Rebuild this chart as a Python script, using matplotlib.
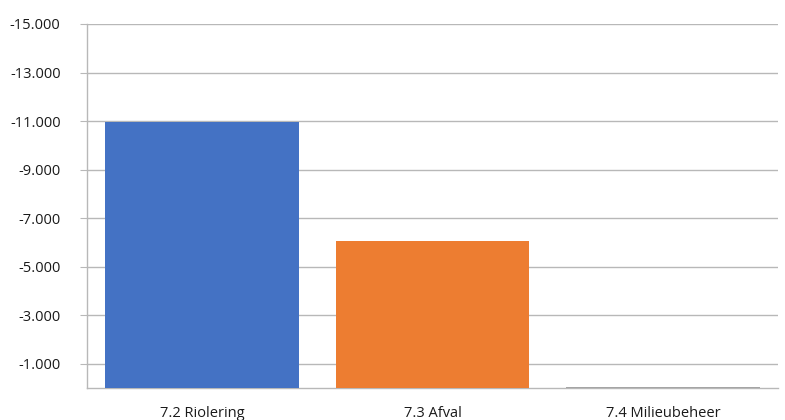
import matplotlib
matplotlib.use("Agg")
import matplotlib.pyplot as plt
from matplotlib.ticker import FuncFormatter

categories = ["7.2 Riolering", "7.3 Afval", "7.4 Milieubeheer"]
values = [-10960, -6060, -60]
colors = ["#4472C4", "#ED7D31", "#A5A5A5"]
y_ticks = [-15000, -13000, -11000, -9000, -7000, -5000, -3000, -1000]

plt.rcParams["font.family"] = ["Open Sans", "DejaVu Sans"]

fig = plt.figure(figsize=(7.85, 4.2), dpi=100)
ax = fig.add_axes([87 / 785, 32 / 420, (778 - 87) / 785, (388 - 24) / 420])

x = range(len(categories))
ax.bar(x, values, width=0.84, color=colors, zorder=3)

ax.set_xlim(-0.5, len(categories) - 0.5)
ax.set_ylim(0, -15000)
ax.set_yticks(y_ticks)
ax.yaxis.set_major_formatter(FuncFormatter(lambda v, p: f"{int(v):,}".replace(",", ".")))
ax.set_xticks(list(x))
ax.set_xticklabels(categories)

ax.grid(axis="y", color="#b8b8b8", linewidth=1.0, zorder=0)
for side in ("top", "right"):
    ax.spines[side].set_visible(False)
for side in ("left", "bottom"):
    ax.spines[side].set_color("#b8b8b8")
    ax.spines[side].set_linewidth(1.0)

ax.tick_params(axis="y", length=5, color="#b8b8b8", labelsize=10.5, labelcolor="#1a1a1a", pad=14)
ax.tick_params(axis="x", length=0, labelsize=10.5, labelcolor="#1a1a1a", pad=13)

fig.savefig("out.png", dpi=100, facecolor="white")
